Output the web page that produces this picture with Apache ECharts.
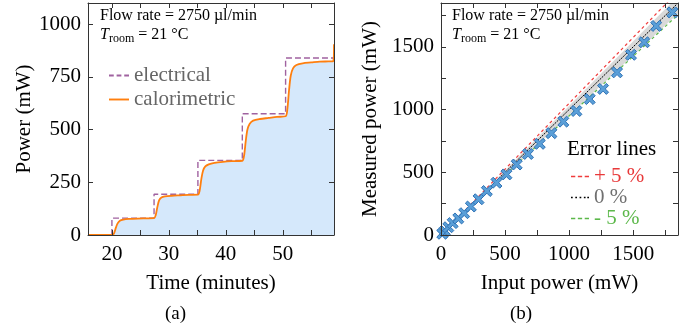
<!DOCTYPE html>
<html>
<head>
<meta charset="utf-8">
<script src="https://cdn.jsdelivr.net/npm/echarts@6/dist/echarts.min.js"></script>
<style>
  html, body { margin: 0; padding: 0; background: #fff; }
  #main { width: 691px; height: 331px; }
</style>
</head>
<body>
<div id="main"></div>
<script>
// (a) power vs time
var elecTime  = [20, 20, 27.4, 27.4, 35.1, 35.1, 42.9, 42.9, 50.5, 50.5, 59];
var elecPower = [0, 80, 80, 193, 193, 354, 354, 575, 575, 839, 839];

var caloTime  = [15.8, 20.1, 20.4, 20.7, 21.0, 21.4, 22, 23, 24.5, 26, 27.4,
                 27.7, 28.0, 28.3, 28.7, 29.3, 30.5, 32, 33.5, 35.1,
                 35.4, 35.7, 36.0, 36.4, 37, 38, 39.5, 41, 42.9,
                 43.2, 43.5, 43.8, 44.2, 44.8, 46, 47.5, 49, 50.5,
                 50.8, 51.1, 51.4, 51.8, 52.4, 53.5, 55, 56.5, 58, 58.85, 59];
var caloPower = [0, 0, 10, 35, 55, 68, 73, 76, 78, 79, 80,
                 95, 135, 165, 178, 183, 186, 188, 190, 191,
                 210, 265, 305, 325, 335, 342, 347, 350, 352,
                 375, 445, 500, 527, 542, 550, 555, 560, 563,
                 595, 685, 755, 790, 806, 814, 818, 822, 823, 824, 905];

var timeTicks   = [20, 25, 30, 35, 40, 45, 50, 55];
var timeLabels  = [20, 30, 40, 50];
var powerTicks  = [0, 250, 500, 750, 1000];

// (b) measured vs input
var inputPower    = [10, 30, 57, 91, 135, 181, 233, 293, 358, 433, 511, 591, 679, 771,
                     862, 955, 1057, 1161, 1265, 1374, 1483, 1586, 1680, 1806];
var measuredPower = [10, 32, 62, 95, 132, 174, 227, 285, 351, 417, 483, 562, 646, 727,
                     812, 904, 989, 1084, 1165, 1297, 1437, 1537, 1667, 1775];

var lineX      = [0, 1850];
var plusFive   = [0, 1942.5];
var zeroLine   = [0, 1850];
var minusFive  = [0, 1757.5];
var bandLow    = [0, 1767];
var bandHigh   = [0, 1905];

var bTicks  = [0, 250, 500, 750, 1000, 1250, 1500, 1750];
var bLabels = [0, 500, 1000, 1500];

function pairs(xs, ys) {
  var out = [];
  for (var i = 0; i < xs.length; i++) out.push([xs[i], ys[i]]);
  return out;
}

var font = 'Liberation Serif';
var frame = '#333';
var plain = function (v) { return String(v); };

function mkX(grid, min, max, ticks, labels, top) {
  return {
    type: 'value', gridIndex: grid, min: min, max: max, z: 10,
    position: top ? 'top' : 'bottom',
    axisLine: { show: true, onZero: false, lineStyle: { color: frame, width: 1 } },
    axisTick: { show: true, inside: true, length: 5, customValues: ticks, lineStyle: { color: frame } },
    axisLabel: top ? { show: false } : { show: true, customValues: labels, formatter: plain, margin: 9, color: '#000', fontFamily: font, fontSize: 21 },
    splitLine: { show: false }
  };
}
function mkY(grid, min, max, ticks, labels, right) {
  return {
    type: 'value', gridIndex: grid, min: min, max: max, z: 10,
    position: right ? 'right' : 'left',
    axisLine: { show: true, onZero: false, lineStyle: { color: frame, width: 1 } },
    axisTick: { show: true, inside: true, length: 5, customValues: ticks, lineStyle: { color: frame } },
    axisLabel: right ? { show: false } : { show: true, customValues: labels, formatter: plain, margin: 7, color: '#000', fontFamily: font, fontSize: 21 },
    splitLine: { show: false }
  };
}

var chart = echarts.init(document.getElementById('main'), null, { renderer: 'canvas' });

var xA = mkX(0, 15.8, 59, timeTicks, timeLabels, false);
xA.name = 'Time (minutes)'; xA.nameLocation = 'middle'; xA.nameGap = 38;
xA.nameTextStyle = { color: '#000', fontFamily: font, fontSize: 21 };
var yA = mkY(0, 0, 1100, powerTicks, powerTicks, false);
yA.name = 'Power (mW)'; yA.nameLocation = 'middle'; yA.nameGap = 44;
yA.nameTextStyle = { color: '#000', fontFamily: font, fontSize: 21 };

var xB = mkX(1, 0, 1850, bTicks, bLabels, false);
xB.name = 'Input power (mW)'; xB.nameLocation = 'middle'; xB.nameGap = 38;
xB.nameTextStyle = { color: '#000', fontFamily: font, fontSize: 21 };
var yB = mkY(1, 0, 1850, bTicks, bLabels, false);
yB.name = 'Measured power (mW)'; yB.nameLocation = 'middle'; yB.nameGap = 60;
yB.nameTextStyle = { color: '#000', fontFamily: font, fontSize: 21 };

var xSym = 'path://M2,0L5,3L8,0L10,2L7,5L10,8L8,10L5,7L2,10L0,8L3,5L0,2Z';
var dashIcon = 'path://M0,0h5v2h-5z M8,0h5v2h-5z M16,0h5v2h-5z';
var dotIcon = 'path://M0,0h2v2h-2z M5,0h2v2h-2z M10,0h2v2h-2z M15,0h2v2h-2z M19,0h2v2h-2z';
var solidIcon = 'path://M0,0h21v2h-21z';

function txt(color) { return { color: color, fontFamily: font, fontSize: 21 }; }

var option = {
  animation: false,
  backgroundColor: '#fff',
  grid: [
    { left: 88, top: 3, width: 246, height: 232, show: false },
    { left: 441, top: 3, width: 237, height: 232, show: false }
  ],
  xAxis: [xA, mkX(0, 15.8, 59, timeTicks, timeLabels, true), xB, mkX(1, 0, 1850, bTicks, bLabels, true)],
  yAxis: [yA, mkY(0, 0, 1100, powerTicks, powerTicks, true), yB, mkY(1, 0, 1850, bTicks, bLabels, true)],
  legend: [
    {
      orient: 'vertical', left: 104, top: 60, itemWidth: 20, itemHeight: 2, itemGap: 3,
      textStyle: txt('#666'),
      data: [
        { name: 'electrical', icon: dashIcon, itemStyle: { color: '#a062a0' }, textStyle: txt('#666') },
        { name: 'calorimetric', icon: solidIcon, itemStyle: { color: '#ff7f0e' }, textStyle: txt('#666') }
      ]
    },
    {
      orient: 'vertical', left: 566, top: 161, itemWidth: 18, itemHeight: 2, itemGap: 0,
      textStyle: txt('#000'),
      data: [
        { name: '+ 5 %', icon: dashIcon, itemStyle: { color: '#f03c3c' }, textStyle: txt('#e8393a') },
        { name: '0 %', icon: dotIcon, itemStyle: { color: '#000' }, textStyle: txt('#707070') },
        { name: '- 5 %', icon: dashIcon, itemStyle: { color: '#5cb84a' }, textStyle: txt('#5cb84a') }
      ]
    }
  ],
  graphic: [
    { type: 'text', z: 100, left: 100, top: 8, style: { text: 'Flow rate = 2750 µl/min', fontFamily: font, fontSize: 16, fill: '#000' } },
    { type: 'text', z: 100, left: 100, top: 27, style: {
        text: '{i|T}{s|room} = 21 °C', fontFamily: font, fontSize: 16, fill: '#000',
        rich: { i: { fontStyle: 'italic', fontFamily: font, fontSize: 16 }, s: { fontFamily: font, fontSize: 12, padding: [8, 0, 0, 0] } }
    } },
    { type: 'text', z: 100, left: 452, top: 8, style: { text: 'Flow rate = 2750 µl/min', fontFamily: font, fontSize: 16, fill: '#000' } },
    { type: 'text', z: 100, left: 452, top: 27, style: {
        text: '{i|T}{s|room} = 21 °C', fontFamily: font, fontSize: 16, fill: '#000',
        rich: { i: { fontStyle: 'italic', fontFamily: font, fontSize: 16 }, s: { fontFamily: font, fontSize: 12, padding: [8, 0, 0, 0] } }
    } },
    { type: 'text', z: 100, left: 567, top: 139, style: { text: 'Error lines', fontFamily: font, fontSize: 21, fill: '#000' } },
    { type: 'text', z: 100, left: 165, top: 305, style: { text: '(a)', fontFamily: font, fontSize: 19, fill: '#000' } },
    { type: 'text', z: 100, left: 510, top: 305, style: { text: '(b)', fontFamily: font, fontSize: 19, fill: '#000' } }
  ],
  series: [
    {
      name: 'calo-fill', type: 'line', xAxisIndex: 0, yAxisIndex: 0,
      data: pairs(caloTime, caloPower), showSymbol: false, symbol: 'none', smooth: 0.3,
      lineStyle: { width: 0 }, areaStyle: { color: '#d5e8fb', opacity: 1 }, z: 1
    },
    {
      name: 'electrical', type: 'line', xAxisIndex: 0, yAxisIndex: 0,
      data: pairs(elecTime, elecPower), showSymbol: false, symbol: 'none',
      lineStyle: { color: '#a062a0', width: 1.4, type: [6, 3] }, itemStyle: { color: '#a062a0' }, z: 2
    },
    {
      name: 'calorimetric', type: 'line', xAxisIndex: 0, yAxisIndex: 0,
      data: pairs(caloTime, caloPower), showSymbol: false, symbol: 'none', smooth: 0.3,
      lineStyle: { color: '#ff7f0e', width: 1.8 }, itemStyle: { color: '#ff7f0e' }, z: 3
    },
    {
      name: 'band', type: 'custom', xAxisIndex: 2, yAxisIndex: 2, z: 1,
      data: [[lineX[0], bandLow[0], bandHigh[0]], [lineX[1], bandLow[1], bandHigh[1]]],
      renderItem: function (params, api) {
        if (params.dataIndex !== 0) return null;
        var pts = [
          api.coord([lineX[0], bandLow[0]]),
          api.coord([lineX[1], bandLow[1]]),
          api.coord([lineX[1], bandHigh[1]]),
          api.coord([lineX[0], bandHigh[0]])
        ];
        var cs = params.coordSys;
        return {
          type: 'polygon',
          shape: { points: pts },
          style: { fill: '#d9d9d9' },
          clipPath: { type: 'rect', shape: { x: cs.x, y: cs.y, width: cs.width, height: cs.height } }
        };
      }
    },
    {
      name: '+ 5 %', type: 'line', xAxisIndex: 2, yAxisIndex: 2,
      data: pairs(lineX, plusFive), showSymbol: false, symbol: 'none',
      lineStyle: { color: '#f03c3c', width: 1.2, type: [3, 3] }, itemStyle: { color: '#f03c3c' }, z: 2
    },
    {
      name: '0 %', type: 'line', xAxisIndex: 2, yAxisIndex: 2,
      data: pairs(lineX, zeroLine), showSymbol: false, symbol: 'none',
      lineStyle: { color: '#000', width: 1, type: [2, 1] }, itemStyle: { color: '#000' }, z: 2
    },
    {
      name: '- 5 %', type: 'line', xAxisIndex: 2, yAxisIndex: 2,
      data: pairs(lineX, minusFive), showSymbol: false, symbol: 'none',
      lineStyle: { color: '#5cb84a', width: 1.2, type: [3, 3] }, itemStyle: { color: '#5cb84a' }, z: 2
    },
    {
      name: 'points', type: 'scatter', xAxisIndex: 2, yAxisIndex: 2,
      data: pairs(inputPower, measuredPower), symbol: xSym, symbolSize: 11,
      itemStyle: { color: '#5a9fd8', borderColor: '#2f72b5', borderWidth: 1, opacity: 1 }, z: 5
    }
  ]
};

chart.setOption(option);
window.onresize = function () { chart.resize(); };
</script>
</body>
</html>
